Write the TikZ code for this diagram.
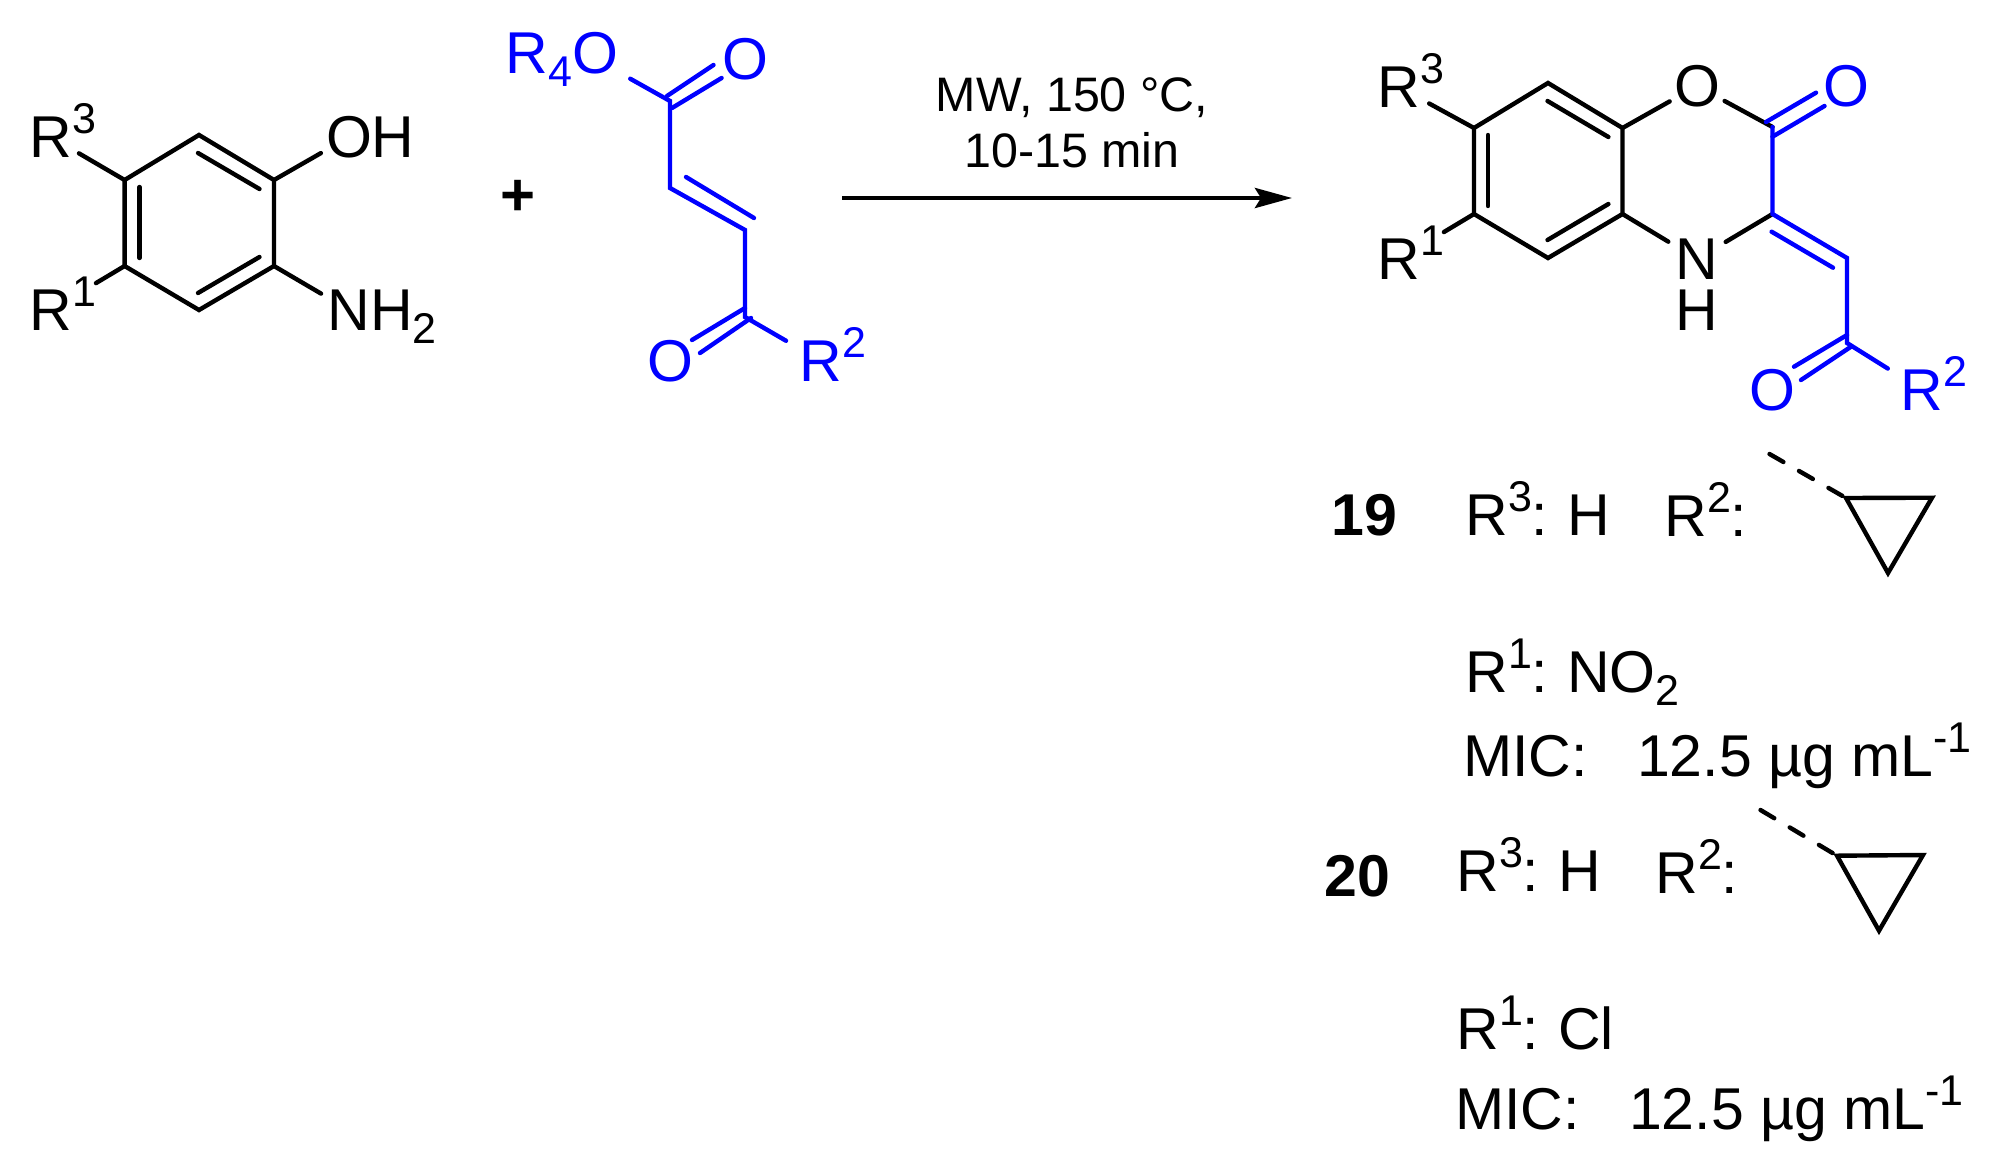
\documentclass[tikz,border=0pt]{standalone}
\usepackage{fontspec}
\setmainfont{Liberation Sans}
\usetikzlibrary{arrows.meta}
\newcommand{\supn}[1]{\raisebox{12pt}{\fontsize{21.5}{22}\selectfont #1}}
\newcommand{\subn}[1]{\raisebox{-6.5pt}{\fontsize{21.5}{22}\selectfont #1}}
\tikzstyle{bond} = [
line width=2.2pt,
line join=miter,
line cap=round
]
\tikzstyle{atom} = [
circle,
inner sep=0pt,
minimum size=#1,
font=\fontsize{29.5}{34}\selectfont
]
\tikzstyle{txt} = [
anchor=base west,
inner sep=0pt,
font=\fontsize{29.5}{34}\selectfont
]
\tikzstyle{cond} = [
anchor=base,
inner sep=0pt,
font=\fontsize{24.2}{28}\selectfont
]

\begin{document}
\begin{tikzpicture}[x=0.5pt,y=-0.5pt]
	\useasboundingbox (0,0) rectangle (2008,1162);

	% aminophenol
	\coordinate (a1) at (124.6,180);
	\coordinate (a2) at (199,135);
	\coordinate (a3) at (274,180);
	\coordinate (a4) at (274,266);
	\coordinate (a5) at (199,310);
	\coordinate (a6) at (124.6,266);
	\node[atom=32pt] (ar3) at (51,137) {R\rlap{\smash{\supn{3}}}};
	\node[atom=52pt] (ar1) at (51,310) {R\rlap{\smash{\supn{1}}}};
	\node[atom=32pt] (aoh) at (349,137) {O\rlap{H}};
	\node[atom=32pt] (anh) at (349,310) {N\rlap{\smash{H\subn{2}}}};
	\draw[bond] (a1) -- (a2) -- (a3) -- (a4) -- (a5) -- (a6) -- cycle;
	\coordinate (a23s) at (198,153);
	\coordinate (a23e) at (259.5,189);
	\coordinate (a16s) at (139.5,187);
	\coordinate (a16e) at (139.5,258);
	\coordinate (a45s) at (259.5,257);
	\coordinate (a45e) at (198,293);
	\draw[bond] (a23s) -- (a23e);
	\draw[bond] (a16s) -- (a16e);
	\draw[bond] (a45s) -- (a45e);
	\draw[bond] (a1) -- (ar3);
	\draw[bond] (a6) -- (ar1);
	\draw[bond] (a3) -- (aoh);
	\draw[bond] (a4) -- (anh);

	\node[font=\fontsize{30}{34}\selectfont\bfseries,inner sep=0pt] (plus) at (518,198) {+};

	% fumarate
	\begin{scope}[blue]
	\coordinate (c1) at (670,101);
	\coordinate (c2) at (670,188);
	\coordinate (c3) at (745,230);
	\coordinate (c4) at (745,317);
	\node[atom=40pt] (fo1) at (595,59) {\llap{R\subn{4}}O};
	\node[atom=40pt] (fo2) at (745,59) {O};
	\node[atom=40pt] (fo3) at (670,361) {O};
	\node[atom=40pt] (fr2) at (821,361) {R\rlap{\smash{\supn{2}}}};
	\draw[bond] (fo1) -- (c1) -- (c2) -- (c3) -- (c4) -- (fr2);
	\coordinate (c1a) at (667,96);
	\coordinate (c1b) at (713.5,65);
	\coordinate (c1c) at (672,108);
	\coordinate (c1d) at (721.6,78);
	\coordinate (c4a) at (745,308);
	\coordinate (c4b) at (692,340);
	\coordinate (c4c) at (751,318);
	\coordinate (c4d) at (700,353);
	\coordinate (c23a) at (686,177);
	\coordinate (c23b) at (754,218);
	\draw[bond] (c1a) -- (c1b);
	\draw[bond] (c1c) -- (c1d);
	\draw[bond] (c4a) -- (c4b);
	\draw[bond] (c4c) -- (c4d);
	\draw[bond] (c23a) -- (c23b);
	\end{scope}

	% arrow
	\coordinate (start) at (842,198);
	\coordinate (stop) at (1292,198);
	\draw[line width=2.2pt,-{Stealth[length=18.5pt,width=10pt,inset=3pt]}] (start) -- (stop);
	\node[cond] (cond1) at (1072,111.7) {MW, 150 °C,};
	\node[cond] (cond2) at (1072,167) {10-15 min};

	% benzoxazinone
	\coordinate (b1) at (1474,128);
	\coordinate (b2) at (1548,83);
	\coordinate (b3) at (1622.5,128);
	\coordinate (b4) at (1622.5,214);
	\coordinate (b5) at (1548,258);
	\coordinate (b6) at (1474,214);
	\coordinate (k1) at (1772.5,127);
	\coordinate (k2) at (1772.5,214);
	\coordinate (k3) at (1847,258);
	\coordinate (k4) at (1847,343);
	\node[atom=34pt] (br3) at (1399,87) {R\rlap{\smash{\supn{3}}}};
	\node[atom=52pt] (br1) at (1399,259) {R\rlap{\smash{\supn{1}}}};
	\node[atom=31pt] (bo) at (1697,86) {O};
	\node[atom=0pt,rectangle,inner xsep=3.5pt] (bn) at (1697,259) {N};
	\node[txt,anchor=base] (bh) at (1697,330) {H};
	\draw[bond] (b1) -- (b2) -- (b3) -- (b4) -- (b5) -- (b6) -- cycle;
	\coordinate (b23s) at (1547.5,101);
	\coordinate (b23e) at (1608.4,137);
	\coordinate (b16s) at (1488,135);
	\coordinate (b16e) at (1488,206);
	\coordinate (b45s) at (1608.4,204);
	\coordinate (b45e) at (1547.5,240);
	\draw[bond] (b23s) -- (b23e);
	\draw[bond] (b16s) -- (b16e);
	\draw[bond] (b45s) -- (b45e);
	\draw[bond] (b1) -- (br3);
	\draw[bond] (b6) -- (br1);
	\draw[bond] (b3) -- (bo);
	\draw[bond] (bo) -- (k1);
	\draw[bond] (b4) -- (bn);
	\draw[bond] (bn) -- (k2);
	\begin{scope}[blue]
	\node[atom=40pt] (ko1) at (1846,86) {O};
	\node[atom=40pt] (ko2) at (1772,390) {O};
	\node[atom=40pt] (kr2) at (1922,390) {R\rlap{\smash{\supn{2}}}};
	\draw[bond] (k1) -- (k2) -- (k3) -- (k4) -- (kr2);
	\coordinate (k1a) at (1766,122);
	\coordinate (k1b) at (1816,92.7);
	\coordinate (k1c) at (1772.5,136.7);
	\coordinate (k1d) at (1824.5,106);
	\coordinate (k4a) at (1847,335);
	\coordinate (k4b) at (1794,366.7);
	\coordinate (k4c) at (1851,346.7);
	\coordinate (k4d) at (1801,380);
	\coordinate (k23a) at (1771.6,231.7);
	\coordinate (k23b) at (1833,267.7);
	\draw[bond] (k1a) -- (k1b);
	\draw[bond] (k1c) -- (k1d);
	\draw[bond] (k4a) -- (k4b);
	\draw[bond] (k4c) -- (k4d);
	\draw[bond] (k23a) -- (k23b);
	\end{scope}

	% compound 19
	\node[txt,font=\fontsize{29.5}{34}\selectfont\bfseries] (n19) at (1331,535) {19};
	\node[txt] (s19r3) at (1465,535) {R\supn{3}:\kern-1.5pt{} H};
	\node[txt] (s19r2) at (1664,536.7) {R\supn{2}:};
	\node[txt] (s19r1) at (1465,692) {R\supn{1}:\kern-1.5pt{} NO\subn{2}};
	\node[txt] (s19mic) at (1463,776.7) {MIC:~~~12.5 µg mL\supn{-1}};
	\coordinate (p1) at (1846,498);
	\coordinate (p2) at (1932,497.7);
	\coordinate (p3) at (1888,573);
	\coordinate (p0) at (1769.5,454);
	\draw[bond] (p1) -- (p2) -- (p3) -- cycle;
	\draw[bond,dash pattern=on 8pt off 9pt] (p0) -- (p1);

	% compound 20
	\node[txt,font=\fontsize{29.5}{34}\selectfont\bfseries] (n20) at (1324,896.7) {20};
	\node[txt] (s20r3) at (1456,891.7) {R\supn{3}:\kern-1.5pt{} H};
	\node[txt] (s20r2) at (1655,893) {R\supn{2}:};
	\node[txt] (s20r1) at (1456,1049) {R\supn{1}:\kern-1.5pt{} Cl};
	\node[txt] (s20mic) at (1455,1129) {MIC:~~~12.5 µg mL\supn{-1}};
	\coordinate (q1) at (1837,855.7);
	\coordinate (q2) at (1923,855);
	\coordinate (q3) at (1879,930.7);
	\coordinate (q0) at (1760.5,810);
	\draw[bond] (q1) -- (q2) -- (q3) -- cycle;
	\draw[bond,dash pattern=on 8pt off 9pt] (q0) -- (q1);
\end{tikzpicture}
\end{document}
